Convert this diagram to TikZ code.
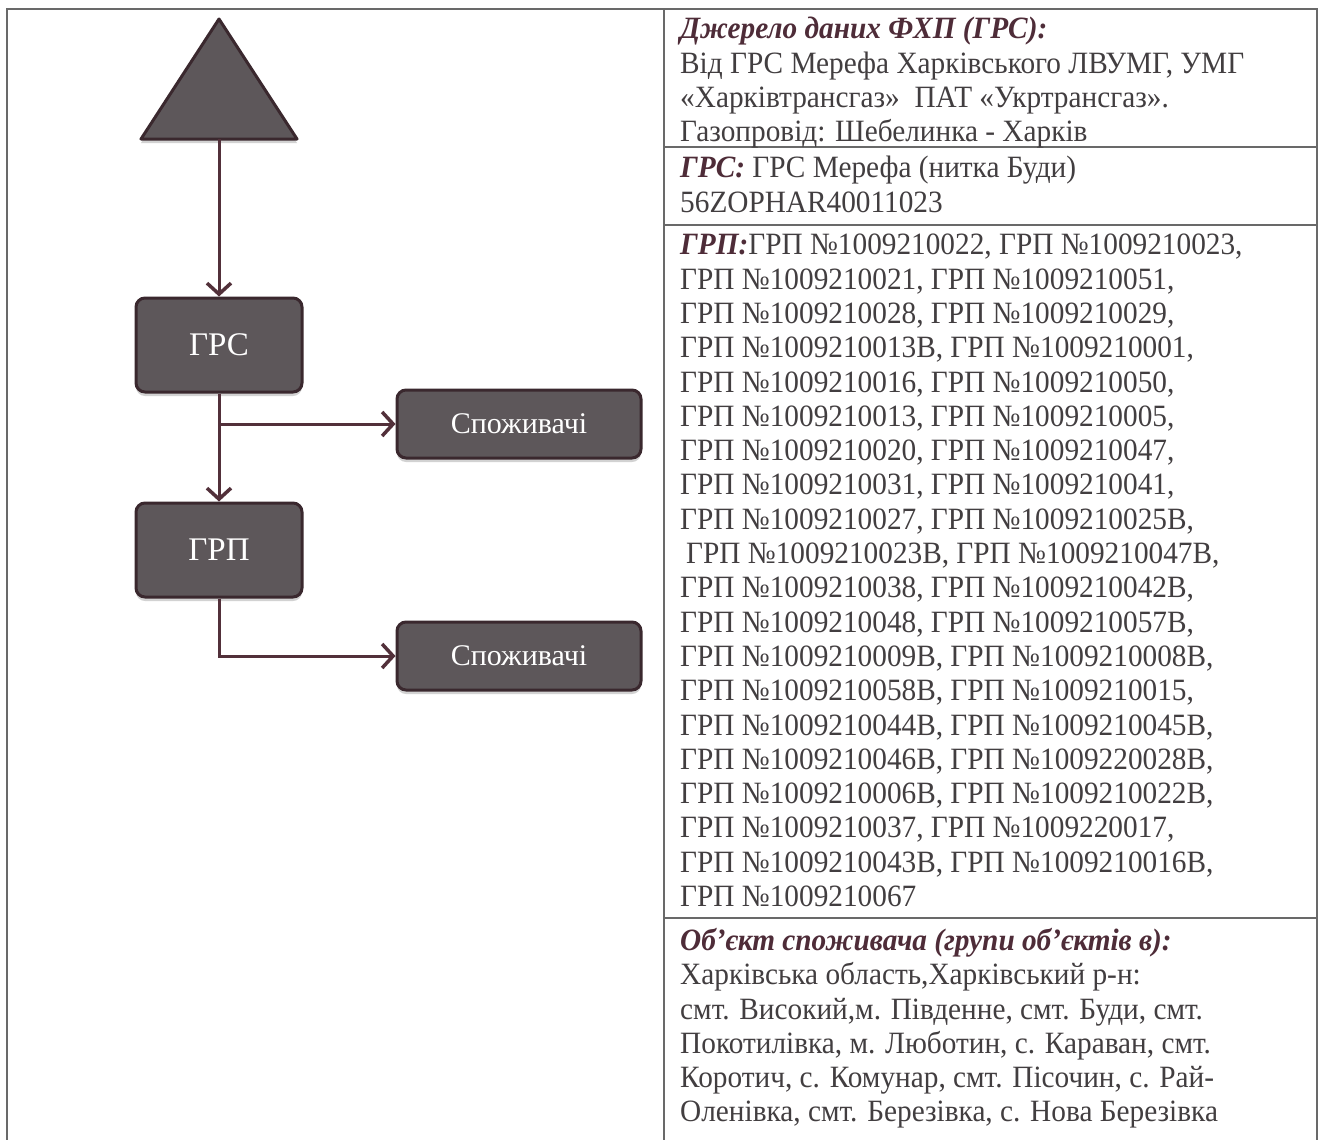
\documentclass[tikz,border=0pt]{standalone}
\usepackage{fontspec}
\setmainfont{Liberation Serif}
\newfontfamily\cellfont[FakeStretch=0.945]{Liberation Serif}
\usepackage{tikz}
\usetikzlibrary{shapes.geometric, arrows.meta, positioning, shadows}
\definecolor{boxfill}{RGB}{93,87,90}
\definecolor{boxline}{RGB}{58,40,46}
\definecolor{pipe}{RGB}{82,48,58}
\definecolor{rulegray}{RGB}{105,105,105}
\definecolor{celltext}{RGB}{66,62,64}
\definecolor{labeltext}{RGB}{78,44,56}
\tikzstyle{station} = [rectangle, rounded corners=9pt, minimum width=166pt, minimum height=94pt, text centered, draw=boxline, line width=3pt, fill=boxfill, text=white, font=\fontsize{33}{36}\selectfont, drop shadow={shadow xshift=0pt, shadow yshift=-4pt, fill=black!35}]
\tikzstyle{consumer} = [station, minimum width=244pt, minimum height=68pt, font=\fontsize{30}{32}\selectfont]
\tikzstyle{source} = [draw=boxline, line width=3pt, fill=boxfill, line join=round, drop shadow={shadow xshift=0pt, shadow yshift=-4pt, fill=black!35}]
\tikzstyle{arrow} = [line width=3pt, draw=pipe, -{Straight Barb[length=11pt, width=24pt, line width=3.5pt]}]
\tikzstyle{cell} = [anchor=north west, inner sep=0pt, align=left, text=celltext, font=\cellfont\fontsize{31}{34.3}\selectfont]
\tikzstyle{frame} = [draw=rulegray, line width=2pt]
\newcommand{\celllabel}[1]{\textcolor{labeltext}{\textbf{\textit{#1}}}}

\begin{document}
\begin{tikzpicture}[x=1pt, y=-1pt]
	\useasboundingbox (0,0) rectangle (1322,1140);
	\fill[white] (0,0) rectangle (1322,1140);

	\draw[frame] (7,1140) -- (7,9) -- (1317,9) -- (1317,1140);
	\draw[frame] (664,9) -- (664,1140);
	\draw[frame] (664,147) -- (1317,147);
	\draw[frame] (664,225) -- (1317,225);
	\draw[frame] (664,918) -- (1317,918);

	\draw[source] (219,19) -- (297,139) -- (141,139) -- cycle;
	\coordinate (src) at (219,139);
	\node(grs) [station] at (219,345) {ГРС};
	\node(grp) [station, below=108pt of grs] {ГРП};
	\node(use1) [consumer] at (519,424) {Споживачі};
	\node(use2) [consumer] at (519,656) {Споживачі};

	\draw[arrow] (src) -- (grs);
	\draw[arrow] (grs) -- (grp);
	\draw[arrow] (grs) |- (use1);
	\draw[arrow] (grp) |- (use2);

	\node(srcinfo) [cell] at (680,17) {\celllabel{Джерело даних ФХП (ГРС):}\\
		Від ГРС Мерефа Харківського ЛВУМГ, УМГ\\
		«Харківтрансгаз»\ \ ПАТ «Укртрансгаз».\\
		Газопровід: Шебелинка - Харків};
	\node(grsinfo) [cell] at (680,156) {\celllabel{ГРС:} ГРС Мерефа (нитка Буди)\\
		56ZOPHAR40011023};
	\node(grpinfo) [cell] at (680,234) {\celllabel{ГРП:}ГРП №1009210022, ГРП №1009210023,\\
		ГРП №1009210021, ГРП №1009210051,\\
		ГРП №1009210028, ГРП №1009210029,\\
		ГРП №1009210013В, ГРП №1009210001,\\
		ГРП №1009210016, ГРП №1009210050,\\
		ГРП №1009210013, ГРП №1009210005,\\
		ГРП №1009210020, ГРП №1009210047,\\
		ГРП №1009210031, ГРП №1009210041,\\
		ГРП №1009210027, ГРП №1009210025В,\\
		\hspace{6pt}ГРП №1009210023В, ГРП №1009210047В,\\
		ГРП №1009210038, ГРП №1009210042В,\\
		ГРП №1009210048, ГРП №1009210057В,\\
		ГРП №1009210009В, ГРП №1009210008В,\\
		ГРП №1009210058В, ГРП №1009210015,\\
		ГРП №1009210044В, ГРП №1009210045В,\\
		ГРП №1009210046В, ГРП №1009220028В,\\
		ГРП №1009210006В, ГРП №1009210022В,\\
		ГРП №1009210037, ГРП №1009220017,\\
		ГРП №1009210043В, ГРП №1009210016В,\\
		ГРП №1009210067};
	\node(userinfo) [cell] at (680,928) {\celllabel{Об’єкт споживача (групи об’єктів в):}\\
		Харківська область,Харківський р-н:\\
		смт. Високий,м. Південне, смт. Буди, смт.\\
		Покотилівка, м. Люботин, с. Караван, смт.\\
		Коротич, с. Комунар, смт. Пісочин, с. Рай-\\
		Оленівка, смт. Березівка, с. Нова Березівка};
\end{tikzpicture}
\end{document}
